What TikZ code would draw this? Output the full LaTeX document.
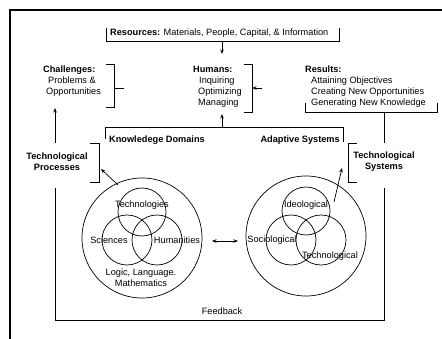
\documentclass[tikz,border=0pt]{standalone}
\usepackage{fontspec}
\setmainfont{Liberation Sans}
\usetikzlibrary{arrows.meta}
\tikzset{
  lbl/.style={inner sep=0pt, font=\fontsize{9.2}{11}\selectfont, align=left},
  hd/.style={inner sep=0pt, font=\fontsize{9.2}{11}\selectfont\bfseries, align=center},
  brk/.style={line width=.7pt},
  arr/.style={line width=.7pt, -{Stealth[length=4.5pt,width=3.5pt]}},
  arrs/.style={line width=.7pt, {Stealth[length=4.5pt,width=3.5pt]}-{Stealth[length=4.5pt,width=3.5pt]}},
}
\begin{document}
\begin{tikzpicture}[x=1pt,y=-1pt]
  \useasboundingbox (0,0) rectangle (442,339);
  \draw[line width=2.5pt] (10,339) -- (10,10) -- (442,10);

  % top row
  \node[lbl, anchor=west] (res) at (110,33) {\textbf{Resources:} Materials, People, Capital, \& Information};
  \draw[brk] (106,28) -- (106,41) -- (339,41) -- (339,28);
  \node[lbl, anchor=north west] (chal) at (43,66) {\textbf{Challenges:}\\\hspace{5pt}Problems \&\\\hspace{3pt}Opportunities};
  \node[lbl, anchor=north west] (hum) at (193,66) {\textbf{Humans:}\\\hspace{6pt}Inquiring\\\hspace{5pt}Optimizing\\\hspace{5pt}Managing};
  \node[lbl, anchor=north west] (resl) at (305,66) {\textbf{Results:}\\\hspace{6pt}Attaining Objectives\\\hspace{6pt}Creating New Opportunities\\\hspace{6pt}Generating New Knowledge};
  \draw[brk] (106,64) -- (114,64) -- (114,107) -- (106,107);
  \draw[brk] (244,64) -- (252,64) -- (252,112) -- (244,112);
  \draw[brk] (305,103) -- (305,112) -- (437,112) -- (437,103);
  \coordinate (resbot) at (222,41);
  \coordinate (humtop) at (222,54);
  \coordinate (chalr) at (114,88);
  \coordinate (chalstub) at (124,88);
  \coordinate (humr) at (252,88);
  \coordinate (humstub) at (262,88);
  \draw[arr] (resbot) -- (humtop);
  \draw[brk] (chalr) -- (chalstub);
  \draw[arr] (humstub) -- (humr);

  % domains and systems
  \draw[brk] (105,139) -- (105,127) -- (343,127) -- (343,142);
  \coordinate (kdtop) at (222,127);
  \coordinate (humbot) at (222,114);
  \draw[arr] (kdtop) -- (humbot);
  \node[lbl, anchor=west, font=\fontsize{9.2}{11}\selectfont\bfseries] (kd) at (109,140) {Knowledege Domains};
  \node[lbl, anchor=east, font=\fontsize{9.2}{11}\selectfont\bfseries] (as) at (340,140) {Adaptive Systems};

  % side labels and feedback loop
  \node[hd] (proc) at (57,162) {Technological\\Processes};
  \node[hd] (sys) at (384,162) {Technological\\Systems};
  \draw[brk] (90,143) -- (99,143) -- (99,182) -- (90,182);
  \draw[brk] (357,143) -- (348,143) -- (348,182) -- (357,182);
  \coordinate (procup) at (55,143);
  \coordinate (chalbot) at (55,108);
  \draw[arr] (procup) -- (chalbot);
  \draw[brk] (384,112) -- (384,143);
  \draw[brk] (55,188) -- (55,320) -- (384,320) -- (384,188);
  \node[lbl] (fb) at (222,311) {Feedback};

  % knowledge domains
  \draw[brk] (142,238) circle[radius=60pt];
  \draw[brk] (142,212) circle[radius=24pt];
  \draw[brk] (127,240) circle[radius=25pt];
  \draw[brk] (157,240) circle[radius=25pt];
  \node[lbl] (tech) at (142,205) {Technologies};
  \node[lbl] (sci) at (109,240) {Sciences};
  \node[lbl] (hmn) at (177,240) {Humanities};
  \node[lbl, align=center] (llm) at (141,278) {Logic, Language.\\Mathematics};

  % adaptive systems
  \draw[brk] (306,236) circle[radius=60pt];
  \draw[brk] (306,211) circle[radius=24pt];
  \draw[brk] (291,240) circle[radius=25pt];
  \draw[brk] (321,240) circle[radius=25pt];
  \node[lbl] (ideo) at (306,205) {Ideological};
  \node[lbl] (soc) at (272,240) {Sociological};
  \node[lbl] (techl) at (330,256) {Technological};

  \coordinate (kdarr) at (118,185);
  \coordinate (procbr) at (101,169);
  \coordinate (asarr) at (334,202);
  \coordinate (sysbr) at (342,168);
  \draw[arr] (kdarr) -- (procbr);
  \draw[arr] (asarr) -- (sysbr);
  \coordinate (kdr) at (212,241);
  \coordinate (asl) at (238,241);
  \draw[arrs] (kdr) -- (asl);
\end{tikzpicture}
\end{document}
